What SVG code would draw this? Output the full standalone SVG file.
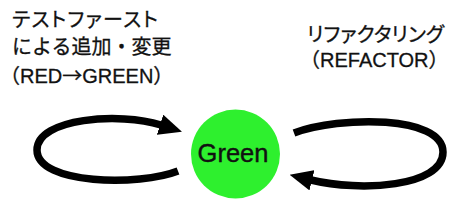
<svg xmlns="http://www.w3.org/2000/svg" width="470" height="212" viewBox="0 0 470 212">
<style>
.lbl{font-family:"Liberation Sans","Noto Sans CJK JP",sans-serif;font-size:20px;fill:#111;stroke:#111;stroke-width:0.3}
.kp{font-feature-settings:"palt" 1}
.cjk{font-family:"Noto Sans CJK JP",sans-serif}
.loop{fill:none;stroke:#000;stroke-width:7.5;marker-end:url(#ah)}
.node{fill:#2EF02E}
.ntxt{font-family:"Liberation Sans",sans-serif;font-size:25.5px;fill:#111;stroke:#111;stroke-width:0.4;text-anchor:middle}
</style>
<defs>
<marker id="ah" markerUnits="userSpaceOnUse" viewBox="0 -10.5 23 21" refX="1" refY="0" markerWidth="23" markerHeight="21" orient="auto">
<path d="M0,-10.5 L23,0 L0,10.5 Z" fill="#000"/>
</marker>
</defs>
<rect width="470" height="212" fill="#fff"/>
<g id="label-testfirst">
<text class="lbl kp" x="12" y="26.5" textLength="146" lengthAdjust="spacing">テストファースト</text>
<text class="lbl" x="12" y="54">による追加・変更</text>
<text class="lbl" x="0" y="83">（RED<tspan class="cjk">→</tspan>GREEN）</text>
</g>
<g id="label-refactor">
<text class="lbl kp" x="307" y="42" textLength="137" lengthAdjust="spacing">リファクタリング</text>
<text class="lbl" x="300" y="67">（REFACTOR）</text>
</g>
<g id="connectors">
<path class="loop" d="M178,171 C140,186 37,185 37,150 C37,118 120,112 161,125"/>
<path class="loop" d="M294,133 C340,116 443,115 443,152 C443,187 360,192 311,180"/>
</g>
<g id="node-green">
<circle class="node" cx="235.5" cy="154" r="44.5"/>
<text class="ntxt" x="233" y="162">Green</text>
</g>
</svg>
